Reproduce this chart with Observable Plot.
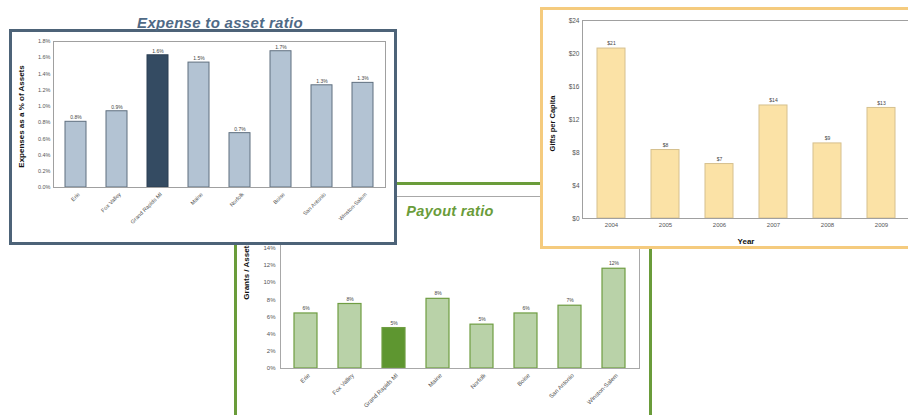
<!DOCTYPE html>
<html><head><meta charset="utf-8">
<script src="https://cdn.jsdelivr.net/npm/d3@7"></script>
<script src="https://cdn.jsdelivr.net/npm/@observablehq/plot@0.6"></script>
<style>
body{margin:0;background:#fff;font-family:"Liberation Sans",Arial,sans-serif}
#wrap{position:relative;width:908px;height:415px;overflow:hidden;background:#fff}
.panel{position:absolute;box-sizing:border-box;background:#fff}
.title{position:absolute;text-align:center;font-weight:bold;font-style:italic;white-space:nowrap;font-family:"Liberation Sans",Arial,sans-serif}
#wrap svg{position:absolute;overflow:visible}
</style></head><body><div id="wrap"></div>
<script>
// ---- data ----
const categories = ["Erie","Fox Valley","Grand Rapids MI","Maine","Norfolk","Boise","San Antonio","Winston-Salem"];
const highlight = "Grand Rapids MI";
const expenseValues = [0.81,0.94,1.63,1.54,0.67,1.68,1.26,1.29];
const expenseLabels = ["0.8%","0.9%","1.6%","1.5%","0.7%","1.7%","1.3%","1.3%"];
const expenseTicks = [0,0.2,0.4,0.6,0.8,1.0,1.2,1.4,1.6,1.8];
const payoutValues = [6.4,7.5,4.7,8.1,5.1,6.4,7.3,11.6];
const payoutLabels = ["6%","8%","5%","8%","5%","6%","7%","12%"];
const payoutTicks = [0,2,4,6,8,10,12,14,16,18,20];
const years = ["2004","2005","2006","2007","2008","2009"];
const giftValues = [20.6,8.3,6.6,13.7,9.1,13.4];
const giftLabels = ["$21","$8","$7","$14","$9","$13"];
const giftTicks = [0,4,8,12,16,20,24];

const FONT = "Liberation Sans, Arial, sans-serif";
const AX = "#555";
const wrap = document.getElementById("wrap");
function panel(left, top, w, h, color){
  const d = document.createElement("div"); d.className = "panel";
  Object.assign(d.style,{left:left+"px",top:top+"px",width:w+"px",height:h+"px",border:`3px solid ${color}`});
  wrap.appendChild(d);
}
function title(text, cx, cy, size, color){
  const d = document.createElement("div"); d.className = "title"; d.textContent = text;
  Object.assign(d.style,{left:(cx-200)+"px",width:"400px",top:(cy-size/2)+"px",fontSize:size+"px",lineHeight:size+"px",color,letterSpacing:"0.3px"});
  wrap.appendChild(d);
}
function place(svg, left, top){ svg.style.left = left+"px"; svg.style.top = top+"px"; wrap.appendChild(svg); }

// ---- Payout ratio (bottom layer) ----
const payData = categories.map((c,i)=>({cat:c, v:payoutValues[i], label:payoutLabels[i]}));
panel(234, 182, 418, 260, "#6a9c3a");
const payout = Plot.plot({
  width:412, height:230, marginLeft:43, marginRight:10, marginTop:11, marginBottom:47,
  style:{fontFamily:FONT, fontSize:"6px", color:AX, background:"transparent"},
  color:{type:"identity"},
  x:{domain:categories, paddingInner:0.48, paddingOuter:0.24, align:0.5},
  y:{domain:[0,20]},
  marks:[
    Plot.barY(payData,{x:"cat", y:"v", fill:d=>d.cat===highlight?"#5e9630":"#b9d2a8", stroke:"#6f9d42", strokeWidth:1.2}),
    Plot.text(payData,{x:"cat", y:"v", text:"label", dy:-5, fontSize:5, fill:"#444"}),
    Plot.frame({stroke:"#a8a8a8"}),
    Plot.axisY({ticks:payoutTicks, tickFormat:d=>d+"%", tickSize:0, tickPadding:5, fontSize:6, fill:AX, label:null}),
    Plot.axisX({tickRotate:-45, tickSize:0, tickPadding:6, dx:3, fontSize:6, fill:AX, label:null}),
    Plot.text(["Grants / Assets"],{text:d=>d, frameAnchor:"left", textAnchor:"middle", lineAnchor:"middle", rotate:-90, dx:-34, dy:-12, fontSize:8, fontWeight:"bold", fill:"#111"})
  ]
});
place(payout, 237, 185);
title("Payout ratio", 450, 211, 14.5, "#6a9c3a");

// ---- Expense to asset ratio ----
const expData = categories.map((c,i)=>({cat:c, v:expenseValues[i], label:expenseLabels[i]}));
panel(9, 29, 388, 216, "#4d6378");
const expense = Plot.plot({
  width:382, height:210, marginLeft:41, marginRight:9, marginTop:9, marginBottom:55,
  style:{fontFamily:FONT, fontSize:"6px", color:AX, background:"transparent"},
  color:{type:"identity"},
  x:{domain:categories, paddingInner:0.5, paddingOuter:0.25, align:0.5},
  y:{domain:[0,1.8]},
  marks:[
    Plot.barY(expData,{x:"cat", y:"v", fill:d=>d.cat===highlight?"#344b62":"#b3c3d3", stroke:d=>d.cat===highlight?"#2b3f53":"#5f6f7f", strokeWidth:1}),
    Plot.text(expData,{x:"cat", y:"v", text:"label", dy:-4, fontSize:5, fill:"#444"}),
    Plot.frame({stroke:"#a0a0a0"}),
    Plot.axisY({ticks:expenseTicks, tickFormat:d=>d.toFixed(1)+"%", tickSize:0, tickPadding:3, fontSize:5.5, fill:AX, label:null}),
    Plot.axisX({tickRotate:-45, tickSize:0, tickPadding:6, dx:3, fontSize:5.5, fill:AX, label:null}),
    Plot.text(["Expenses as a % of Assets"],{text:d=>d, frameAnchor:"left", textAnchor:"middle", lineAnchor:"middle", rotate:-90, dx:-32, dy:2, fontSize:8, fontWeight:"bold", fill:"#111"})
  ]
});
place(expense, 12, 32);
title("Expense to asset ratio", 220, 22.5, 15, "#4f6a86");

// ---- Gifts per capita ----
const giftData = years.map((y,i)=>({year:y, v:giftValues[i], label:giftLabels[i]}));
panel(540, 7, 420, 242, "#f5cb7e");
const gifts = Plot.plot({
  width:366, height:236, marginLeft:39, marginRight:0, marginTop:10, marginBottom:28,
  style:{fontFamily:FONT, fontSize:"6px", color:AX, background:"transparent"},
  x:{domain:years, paddingInner:0.49, paddingOuter:0.245, align:0.5},
  y:{domain:[0,24]},
  marks:[
    Plot.barY(giftData,{x:"year", y:"v", fill:"#fbe2a6", stroke:"#d6c08e", strokeWidth:1}),
    Plot.text(giftData,{x:"year", y:"v", text:"label", dy:-5, fontSize:5, fill:"#444"}),
    Plot.frame({stroke:"#a0a0a0"}),
    Plot.axisY({ticks:giftTicks, tickFormat:d=>"$"+d, tickSize:0, tickPadding:3, fontSize:6.5, fill:AX, label:null}),
    Plot.axisX({tickSize:0, tickPadding:4, fontSize:6, fill:AX, label:null}),
    Plot.text(["Gifts per Capita"],{text:d=>d, frameAnchor:"left", textAnchor:"middle", lineAnchor:"middle", rotate:-90, dx:-30, dy:4, fontSize:7.5, fontWeight:"bold", fill:"#111"}),
    Plot.text(["Year"],{text:d=>d, frameAnchor:"bottom", textAnchor:"middle", lineAnchor:"middle", dy:23, fontSize:8, fontWeight:"bold", fill:"#111"})
  ]
});
place(gifts, 543, 10);
</script></body></html>
